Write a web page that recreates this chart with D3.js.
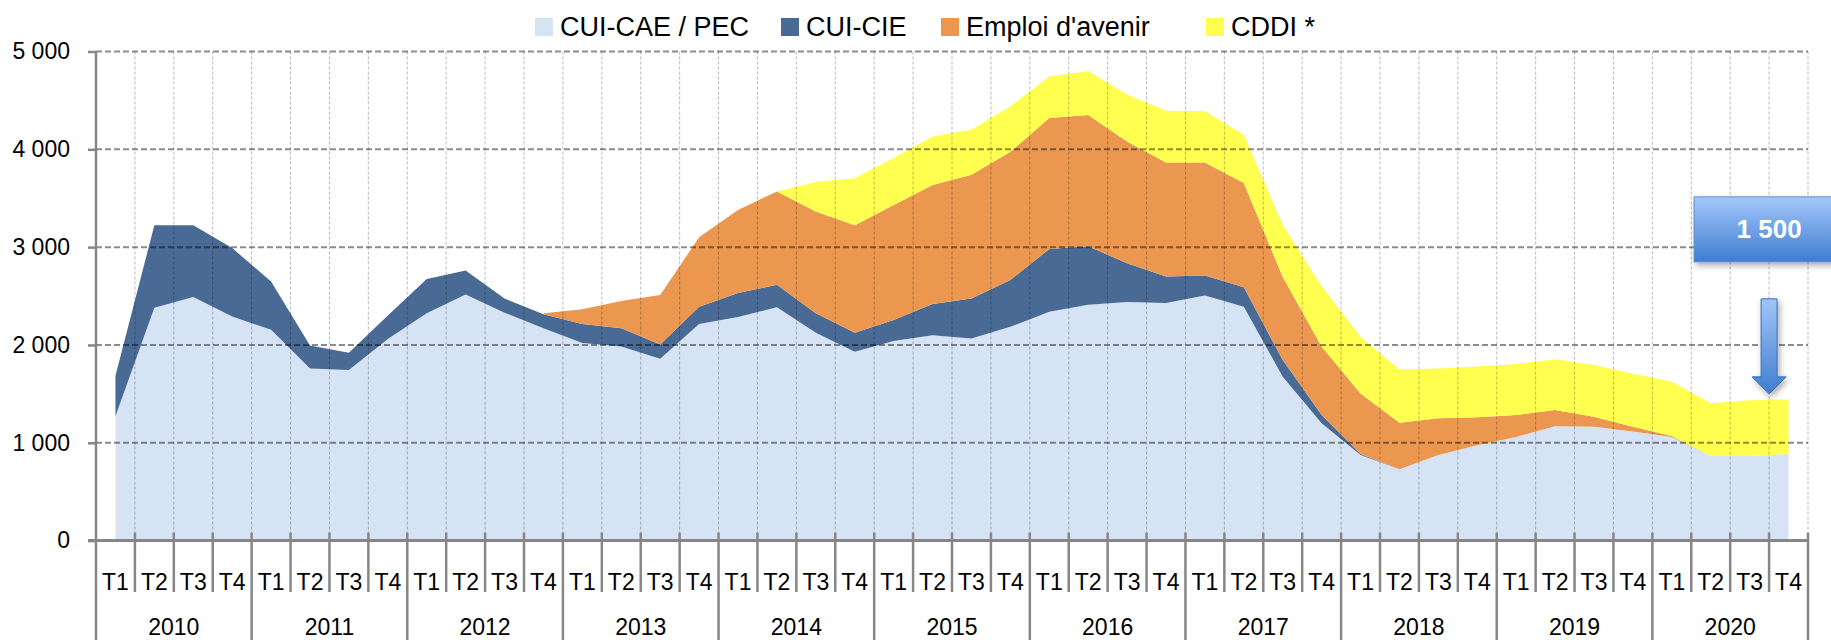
<!DOCTYPE html>
<html>
<head>
<meta charset="utf-8">
<script src="https://cdn.jsdelivr.net/npm/d3@7"></script>
<style>
  html, body { margin: 0; padding: 0; background: #ffffff; }
  svg { display: block; font-family: "Liberation Sans", Arial, sans-serif; }
</style>
</head>
<body>
<svg id="chart" width="1831" height="640"></svg>
<script>
// ---------- DATA ----------
const years = ["2010","2011","2012","2013","2014","2015","2016","2017","2018","2019","2020"];
const quarters = ["T1","T2","T3","T4"];
const seriesNames = ["CUI-CAE / PEC", "CUI-CIE", "Emploi d'avenir", "CDDI *"];
const yTicks = [0, 1000, 2000, 3000, 4000, 5000];

const cuiCae = [1270, 2380, 2490, 2290, 2155, 1760, 1745, 2060,
                2325, 2515, 2330, 2170, 2020, 1985, 1860, 2215,
                2285, 2385, 2125, 1930, 2040, 2100, 2065, 2185,
                2340, 2410, 2440, 2430, 2505, 2390, 1675, 1200,
                875, 730, 875, 975, 1060, 1170, 1165, 1115,
                1060, 865, 865, 885];
const cuiCie = [415, 845, 735, 700, 495, 235, 175, 240,
                350, 245, 145, 145, 195, 185, 145, 175,
                245, 230, 200, 195, 215, 320, 410, 480,
                640, 600, 395, 270, 205, 200, 170, 85,
                10, 0, null, null, null, null, null, null,
                null, null, null, null];
const emploiAvenir = [null, null, null, null, null, null, null, null,
                null, null, null, 10, 150, 280, 505, 710,
                850, 955, 1040, 1100, 1175, 1215, 1265, 1310,
                1340, 1340, 1245, 1165, 1155, 1065, 850, 700,
                620, 475, 375, 285, 225, 165, 100, 50,
                10, 0, null, null];
const cddi = [null, null, null, null, null, null, null, null,
                null, null, null, null, null, null, null, null,
                null, 0, 300, 480, 480, 495, 460, 465,
                425, 450, 480, 530, 525, 495, 530, 615,
                580, 545, 510, 520, 520, 520, 530, 540,
                555, 540, 570, 560];
const annotationValue = 1500;
const annotationLabel = "1 500";

// ---------- SETUP ----------
const colors = ["#d6e3f4", "#4a6a96", "#eb9750", "#ffff4f"];
const seriesArrays = [cuiCae, cuiCie, emploiAvenir, cddi];
const categories = years.flatMap(y => quarters.map(q => y + " " + q));
const table = categories.map((c, i) => {
  const row = { cat: c };
  seriesNames.forEach((s, k) => { row[s] = seriesArrays[k][i]; });
  return row;
});

const svg = d3.select("#chart");
const plotLeft = 96, plotRight = 1808, plotTop = 51.5, plotBottom = 540.6;

const x = d3.scaleBand().domain(categories).range([plotLeft, plotRight]).padding(0);
const bw = x.bandwidth();
const y = d3.scaleLinear().domain([0, 5000]).range([plotBottom, plotTop]);

const stack = d3.stack().keys(seriesNames).value((d, k) => d[k] == null ? 0 : d[k]);
const stacked = stack(table);

const area = d3.area()
  .x(d => x(d.data.cat) + bw / 2)
  .y0(d => y(d[0]))
  .y1(d => y(d[1]));

// ---------- AREAS ----------
const gAreas = svg.append("g");
stacked.forEach((layer, k) => {
  const key = seriesNames[k];
  gAreas.append("path")
    .datum(layer)
    .attr("fill", colors[k])
    .attr("d", area.defined(d => d.data[key] != null)(layer));
});

// ---------- GRID ----------
const gGrid = svg.append("g");
gGrid.selectAll("line.v")
  .data(categories.slice(1).map(c => x(c)).concat([plotRight]))
  .join("line")
  .attr("x1", d => d).attr("x2", d => d)
  .attr("y1", plotTop).attr("y2", plotBottom)
  .attr("stroke", "rgba(0,0,0,0.28)")
  .attr("stroke-width", 1)
  .attr("stroke-dasharray", "3,2");
gGrid.selectAll("line.h")
  .data(yTicks.filter(v => v > 0))
  .join("line")
  .attr("x1", plotLeft).attr("x2", plotRight)
  .attr("y1", d => y(d)).attr("y2", d => y(d))
  .attr("stroke", "rgba(0,0,0,0.45)")
  .attr("stroke-width", 2)
  .attr("stroke-dasharray", "6,3");

// ---------- Y AXIS ----------
const fmt = v => d3.format(",")(v).replace(/,/g, " ");
const yAxis = d3.axisLeft(y).tickValues(yTicks).tickFormat(fmt).tickSize(8).tickPadding(18);
const gy = svg.append("g").attr("transform", `translate(${plotLeft},0)`).call(yAxis);
gy.select(".domain").remove();
gy.selectAll(".tick line").attr("stroke", "#868686").attr("stroke-width", 2.5);
gy.selectAll(".tick text")
  .attr("fill", "#000")
  .style("font-size", "23px")
  .style("font-family", "'Liberation Sans', Arial, sans-serif");
svg.append("line")
  .attr("x1", plotLeft).attr("x2", plotLeft)
  .attr("y1", plotTop).attr("y2", 640)
  .attr("stroke", "#868686").attr("stroke-width", 2.5);

// ---------- X AXIS ----------
const gx = svg.append("g");
gx.append("line")
  .attr("x1", plotLeft - 8).attr("x2", plotRight)
  .attr("y1", plotBottom).attr("y2", plotBottom)
  .attr("stroke", "#868686").attr("stroke-width", 3);
const boundaries = categories.map((c, i) => ({ x: x(c), year: i % 4 === 0 }))
  .concat([{ x: plotRight, year: true }]);
gx.selectAll("line.sep")
  .data(boundaries.slice(1))
  .join("line")
  .attr("x1", d => d.x).attr("x2", d => d.x)
  .attr("y1", plotBottom - 8)
  .attr("y2", d => d.year ? 640 : 592)
  .attr("stroke", "#868686").attr("stroke-width", 2.5);
gx.selectAll("text.q")
  .data(categories)
  .join("text")
  .attr("x", d => x(d) + bw / 2)
  .attr("y", 590)
  .attr("text-anchor", "middle")
  .style("font-size", "23px")
  .text(d => d.split(" ")[1]);
gx.selectAll("text.yr")
  .data(years)
  .join("text")
  .attr("x", d => x(d + " T1") + bw * 2)
  .attr("y", 635)
  .attr("text-anchor", "middle")
  .style("font-size", "23px")
  .text(d => d);

// ---------- LEGEND ----------
const legendPos = [535, 781, 941, 1206];
const gLeg = svg.append("g");
seriesNames.forEach((s, k) => {
  gLeg.append("rect")
    .attr("x", legendPos[k]).attr("y", 18)
    .attr("width", 18).attr("height", 18)
    .attr("fill", colors[k]);
  gLeg.append("text")
    .attr("x", legendPos[k] + 25).attr("y", 36)
    .style("font-size", "27px")
    .text(s);
});

// ---------- ANNOTATION ----------
const defs = svg.append("defs");
const gradBox = defs.append("linearGradient").attr("id", "gBox")
  .attr("x1", 0).attr("y1", 0).attr("x2", 0).attr("y2", 1);
gradBox.append("stop").attr("offset", "0%").attr("stop-color", "#a3c7fb");
gradBox.append("stop").attr("offset", "100%").attr("stop-color", "#3f7dd0");
const gradArrow = defs.append("linearGradient").attr("id", "gArrow")
  .attr("x1", 0).attr("y1", 0).attr("x2", 0).attr("y2", 1);
gradArrow.append("stop").attr("offset", "0%").attr("stop-color", "#a0c6f8");
gradArrow.append("stop").attr("offset", "100%").attr("stop-color", "#3f7dd0");
const shadow = defs.append("filter").attr("id", "shadow")
  .attr("x", "-20%").attr("y", "-20%").attr("width", "150%").attr("height", "160%");
shadow.append("feDropShadow").attr("dx", 2).attr("dy", 3).attr("stdDeviation", 3)
  .attr("flood-color", "#000").attr("flood-opacity", 0.35);

const ax = x("2020 T4");
const tipY = y(annotationValue);
const gAnn = svg.append("g");
gAnn.append("rect")
  .attr("x", ax - 75).attr("y", tipY - 197)
  .attr("width", 150).attr("height", 65)
  .attr("fill", "url(#gBox)")
  .attr("stroke", "#5a8fd8").attr("stroke-width", 1)
  .attr("filter", "url(#shadow)");
gAnn.append("text")
  .attr("x", ax).attr("y", tipY - 156)
  .attr("text-anchor", "middle")
  .attr("fill", "#ffffff")
  .style("font-size", "26px")
  .style("font-weight", "bold")
  .text(annotationLabel);
const sw = 8, hw = 17, headH = 17, shaftTop = tipY - 95;
gAnn.append("path")
  .attr("d", `M${ax - sw},${shaftTop} L${ax + sw},${shaftTop} L${ax + sw},${tipY - headH} L${ax + hw},${tipY - headH} L${ax},${tipY} L${ax - hw},${tipY - headH} L${ax - sw},${tipY - headH} Z`)
  .attr("fill", "url(#gArrow)")
  .attr("stroke", "#3a6fb5").attr("stroke-width", 1)
  .attr("filter", "url(#shadow)");
</script>
</body>
</html>
